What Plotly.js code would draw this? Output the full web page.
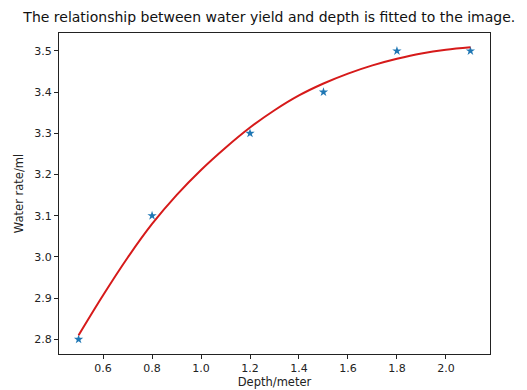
<!DOCTYPE html>
<html>
<head>
<meta charset="utf-8">
<script src="https://cdn.plot.ly/plotly-3.0.1.min.js"></script>
<style>html,body{margin:0;padding:0;background:#fff;}#chart{width:527px;height:390px;}</style>
</head>
<body>
<div id="chart"></div>
<script>
// Measured data points
var depth = [0.5, 0.8, 1.2, 1.5, 1.8, 2.1];
var waterRate = [2.8, 3.1, 3.3, 3.4, 3.5, 3.5];

// Fitted curve
var fitDepth = [0.5, 0.6, 0.7, 0.8, 0.9, 1.0, 1.1, 1.2, 1.3, 1.4, 1.5, 1.6, 1.7, 1.8, 1.9, 2.0, 2.1];
var fitRate = [2.810, 2.907, 2.998, 3.080, 3.150, 3.211, 3.265, 3.314, 3.356, 3.392, 3.421, 3.445, 3.465, 3.481, 3.494, 3.503, 3.509];

var xTicks = [0.6, 0.8, 1.0, 1.2, 1.4, 1.6, 1.8, 2.0];
var yTicks = [2.8, 2.9, 3.0, 3.1, 3.2, 3.3, 3.4, 3.5];

var font = 'DejaVu Sans, sans-serif';

var traces = [
  {
    x: depth, y: waterRate, type: 'scatter', mode: 'markers',
    marker: {symbol: 'star', size: 7, color: '#1f77b4'},
    hoverinfo: 'none', showlegend: false
  },
  {
    x: fitDepth, y: fitRate, type: 'scatter', mode: 'lines',
    line: {color: '#d61a1a', width: 2, shape: 'spline', smoothing: 1},
    hoverinfo: 'none', showlegend: false
  }
];

var axisCommon = {
  showgrid: false, zeroline: false,
  showline: true, mirror: true, linecolor: '#222', linewidth: 1,
  ticks: 'outside', ticklen: 4, tickwidth: 1, tickcolor: '#222',
  tickfont: {family: font, size: 11, color: '#222'},
  tickformat: '.1f'
};

var layout = {
  width: 527, height: 390,
  margin: {l: 59, r: 37, t: 33, b: 36},
  paper_bgcolor: '#fff', plot_bgcolor: '#fff',
  title: {
    text: 'The relationship between water yield and depth is fitted to the image.',
    font: {family: font, size: 14, color: '#111'},
    x: 0.511, xanchor: 'center', y: 0.955, yanchor: 'middle'
  },
  xaxis: Object.assign({}, axisCommon, {
    range: [0.42, 2.18], tickvals: xTicks,
    title: {text: 'Depth/meter', font: {family: font, size: 11.5, color: '#222'}, standoff: 3}
  }),
  yaxis: Object.assign({}, axisCommon, {
    range: [2.7645, 3.5435], tickvals: yTicks,
    title: {text: 'Water rate/ml', font: {family: font, size: 11.5, color: '#222'}, standoff: 8}
  })
};

Plotly.newPlot('chart', traces, layout, {displayModeBar: false, staticPlot: true});
</script>
</body>
</html>
